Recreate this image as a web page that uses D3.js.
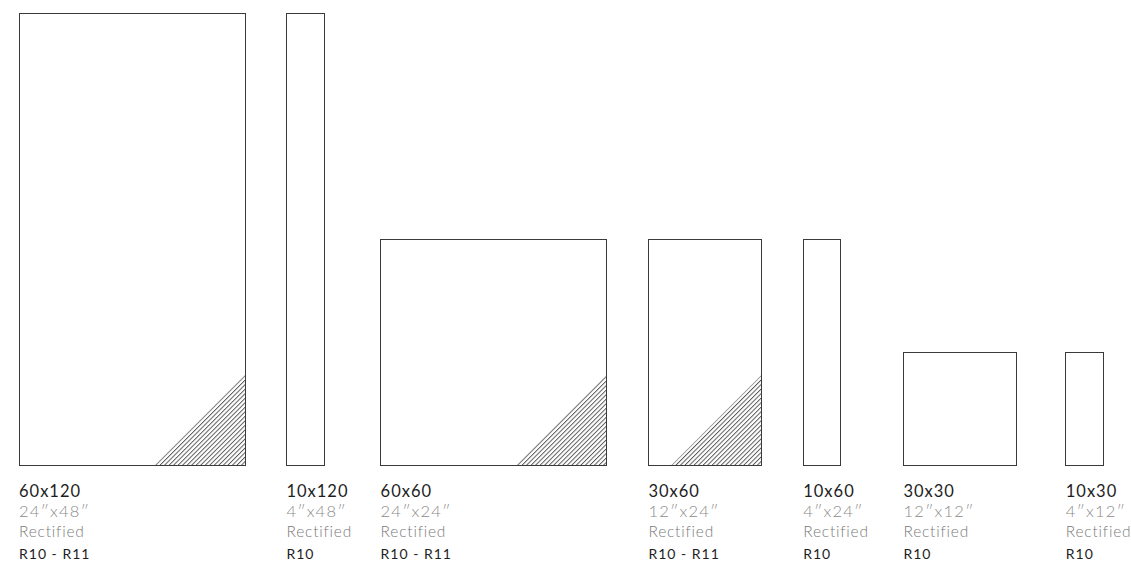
<!DOCTYPE html>
<html>
<head>
<meta charset="utf-8">
<script src="https://cdn.jsdelivr.net/npm/d3@7"></script>
<style>
  body { margin: 0; background: #fff; }
  svg { display: block; }
  .tile { fill: none; stroke: #3a3a3a; stroke-width: 1; shape-rendering: crispEdges; }
  .lbl { font-family: "Lato", "Noto Sans", sans-serif; }
  .size { fill: #1e1e1e; font-size: 16.5px; letter-spacing: 1px; }
  .inch { fill: #8a8a8a; font-size: 16.5px; font-weight: 300; letter-spacing: 1.2px; }
  .finish { fill: #7a7a7a; font-size: 15.5px; font-weight: 300; letter-spacing: 0.8px; }
  .grade { fill: #1e1e1e; font-size: 14px; letter-spacing: 1px; }
</style>
</head>
<body>
<svg id="chart" width="1131" height="566"></svg>
<script>
// tile formats, sizes in cm
const formats = ["60x120", "10x120", "60x60", "30x60", "10x60", "30x30", "10x30"]
const widthCm = [60, 10, 60, 30, 10, 30, 10]
const heightCm = [120, 120, 60, 60, 60, 30, 30]
const inches = ["24″x48″", "4″x48″", "24″x24″", "12″x24″", "4″x24″", "12″x12″", "4″x12″"]
const finish = ["Rectified", "Rectified", "Rectified", "Rectified", "Rectified", "Rectified", "Rectified"]
const grades = ["R10 - R11", "R10", "R10 - R11", "R10 - R11", "R10", "R10", "R10"]
// left edge of each tile along the row, in cm
const startCm = [0, 71, 96, 167.1, 208.2, 234.8, 277.9]

const svg = d3.select("#chart")
const pxPerCm = 452 / 120
const base = 465.5
const left = 19

const x = d3.scaleLinear()
  .domain([0, 300])
  .range([left, left + 300 * pxPerCm])

const y = d3.scaleLinear()
  .domain([0, 120])
  .range([base, base - 120 * pxPerCm])

const tiles = formats.map((f, i) => ({
  name: f, w: widthCm[i], h: heightCm[i], inch: inches[i],
  finish: finish[i], grade: grades[i], x0: startCm[i]
}))

// hatch pattern for the R11 corner
const defs = svg.append("defs")
defs.append("pattern")
  .attr("id", "hatch")
  .attr("patternUnits", "userSpaceOnUse")
  .attr("width", 3.2)
  .attr("height", 10)
  .attr("patternTransform", "rotate(45)")
  .append("line")
  .attr("x1", 0.5).attr("y1", 0)
  .attr("x2", 0.5).attr("y2", 10)
  .attr("stroke", "#4a4a4a")
  .attr("stroke-width", 0.9)

const hatchCm = 24

const g = svg.selectAll("g.fmt")
  .data(tiles)
  .join("g")
  .attr("class", "fmt")

g.filter(d => d.grade.includes("R11"))
  .append("path")
  .attr("fill", "url(#hatch)")
  .attr("d", d => {
    const r = x(d.x0 + d.w)
    return "M" + (r - (x(hatchCm) - x(0))) + "," + y(0) +
      "L" + r + "," + y(0) + "L" + r + "," + y(hatchCm) + "Z"
  })

g.append("rect")
  .attr("class", "tile")
  .attr("x", d => x(d.x0))
  .attr("y", d => y(d.h))
  .attr("width", d => x(d.x0 + d.w) - x(d.x0))
  .attr("height", d => y(0) - y(d.h))

const rows = [
  { key: "name", cls: "size", dy: 31 },
  { key: "inch", cls: "inch", dy: 51 },
  { key: "finish", cls: "finish", dy: 71 },
  { key: "grade", cls: "grade", dy: 93 }
]

rows.forEach(r => {
  g.append("text")
    .attr("class", "lbl " + r.cls)
    .attr("x", d => x(d.x0))
    .attr("y", base + r.dy)
    .text(d => d[r.key])
})
</script>
</body>
</html>
